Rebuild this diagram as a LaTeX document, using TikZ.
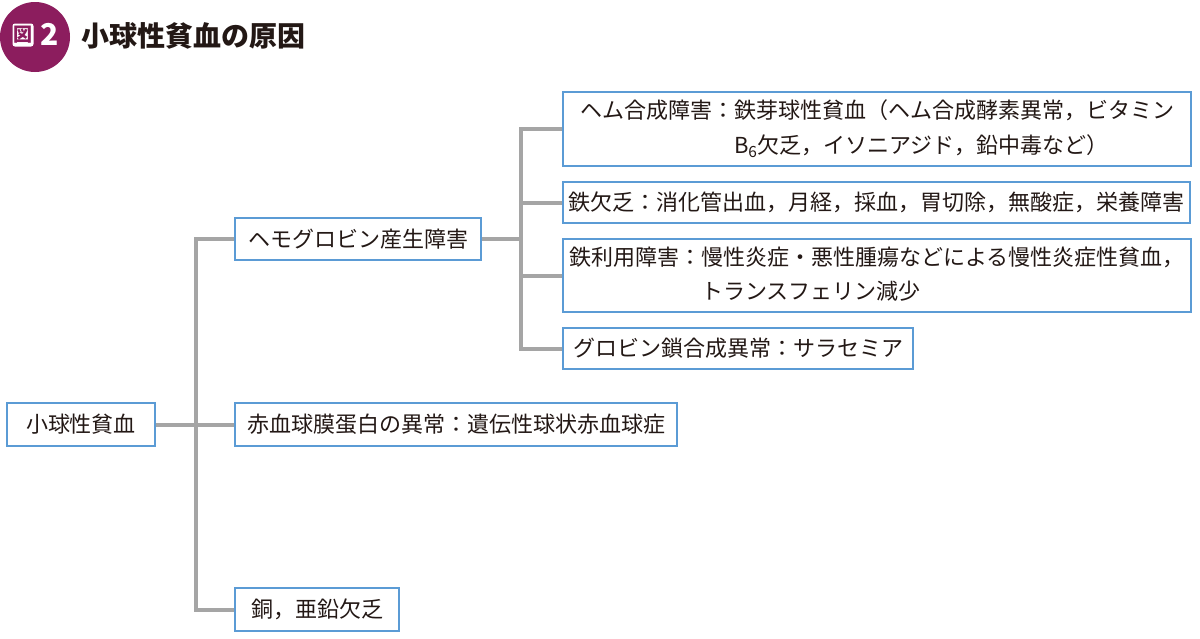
\documentclass[tikz,border=0pt]{standalone}
\usepackage{fontspec}
\setmainfont{Noto Sans CJK JP}
\usetikzlibrary{backgrounds}
\definecolor{boxblue}{HTML}{5B9BD5}
\definecolor{linegray}{HTML}{A5A5A5}
\definecolor{titlepurple}{HTML}{8C1D5E}
\definecolor{ink}{HTML}{231815}
\tikzset{
  box/.style={draw=boxblue, line width=2.6pt, fill=white, inner sep=0pt, outer sep=0pt, anchor=north west, text=ink,
    font=\fontsize{22}{34.5}\selectfont},
  conn/.style={draw=linegray, line width=4pt},
}
\newcommand{\twoline}[3]{#1\begin{tabular}[t]{@{}l@{}}#2\\#3\end{tabular}}
\begin{document}
\begin{tikzpicture}[x=1pt,y=-1pt]
\useasboundingbox (0,0) rectangle (1200,638);
% title
\node[circle, fill=titlepurple, minimum size=70pt, inner sep=0pt] (badge) at (35,37) {};
\node[fill=white, rounded corners=2.5pt, minimum width=21pt, minimum height=23pt, inner sep=0pt,
  text=titlepurple, font=\fontsize{19}{19}\selectfont\bfseries] (zu) at (23,35) {図};
\node[text=white, font=\fontsize{30}{30}\selectfont\bfseries, inner sep=0pt] (two) at (50,34) {2};
\node[anchor=west, text=ink, font=\fontsize{28}{28}\selectfont\bfseries, inner sep=0pt] (title) at (81,36) {小球性貧血の原因};
% boxes
\node[box, minimum width=148pt, minimum height=43pt] (root) at (7,403) {小球性貧血};
\node[box, minimum width=246pt, minimum height=42pt] (hemo) at (235,218) {ヘモグロビン産生障害};
\node[box, minimum width=442pt, minimum height=43pt] (rbc) at (235,403) {赤血球膜蛋白の異常：遺伝性球状赤血球症};
\node[box, minimum width=164pt, minimum height=43pt] (copper) at (235,588) {銅，亜鉛欠乏};
\node[box, minimum width=628pt, minimum height=74pt] (heme) at (563,92)
  {\twoline{ヘム合成障害：}{鉄芽球性貧血（ヘム合成酵素異常，ビタミン}{B\textsubscript{6}欠乏，イソニアジド，鉛中毒など）}};
\node[box, minimum width=627pt, minimum height=41pt] (irondef) at (563,182)
  {鉄欠乏：消化管出血，月経，採血，胃切除，無酸症，栄養障害};
\node[box, minimum width=628pt, minimum height=73pt] (ironutil) at (563,239)
  {\twoline{鉄利用障害：}{慢性炎症・悪性腫瘍などによる慢性炎症性貧血，}{トランスフェリン減少}};
\node[box, minimum width=350pt, minimum height=41pt] (globin) at (563,328) {グロビン鎖合成異常：サラセミア};
% trunks
\begin{pgfonlayer}{background}
\draw[conn] (root.east) -- (rbc.west);
\draw[conn] (hemo.west) -- ++(-39,0) coordinate (t1) |- (copper.west);
\draw[conn] (hemo.east) -- ++(40,0) coordinate (t2);
\draw[conn] (heme.west) -| (t2) |- (globin.west);
\draw[conn] (irondef.west) -- (irondef.west -| t2);
\draw[conn] (ironutil.west) -- (ironutil.west -| t2);
\end{pgfonlayer}
\end{tikzpicture}
\end{document}
